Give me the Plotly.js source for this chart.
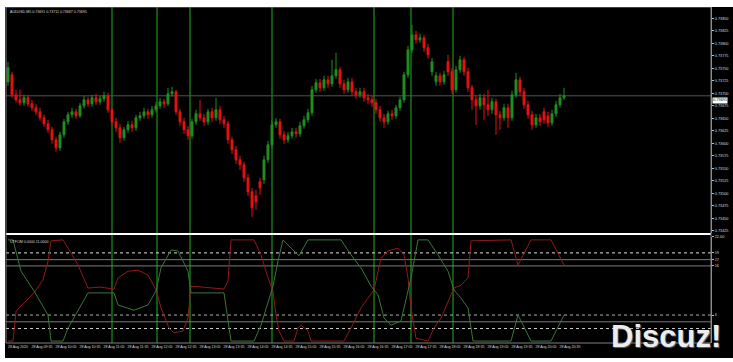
<!DOCTYPE html>
<html>
<head>
<meta charset="utf-8">
<script src="https://cdn.plot.ly/plotly-3.0.1.min.js"></script>
<style>
html,body{margin:0;padding:0;background:#fff;width:733px;height:362px;overflow:hidden;}
#chart{position:absolute;left:5px;top:7px;width:728px;height:351px;}
</style>
</head>
<body>
<div id="chart"></div>
<script>
// ---- data ----
const symbolName = "AUDUSD,M5";
const opens = [0.73723,0.73737,0.73697,0.73687,0.73681,0.73691,0.73679,0.73671,0.73663,0.73651,
0.73639,0.73627,0.73607,0.73591,0.73617,0.73643,0.73657,0.73663,0.73655,0.73675,
0.73687,0.73679,0.73691,0.73683,0.73689,0.73695,0.73667,0.73643,0.73631,0.73611,
0.73627,0.73637,0.73631,0.73651,0.73655,0.73663,0.73657,0.73667,0.73675,0.73683,
0.73679,0.73699,0.73703,0.73663,0.73643,0.73627,0.73615,0.73643,0.73659,0.73651,
0.73643,0.73663,0.73651,0.73667,0.73647,0.73639,0.73607,0.73587,0.73567,0.73557,
0.73531,0.73503,0.73495,0.73523,0.73527,0.73567,0.73597,0.73637,0.73643,0.73617,
0.73607,0.73615,0.73623,0.73619,0.73635,0.73647,0.73661,0.73707,0.73721,0.73711,
0.73727,0.73719,0.73735,0.73747,0.73719,0.73707,0.73723,0.73703,0.73697,0.73703,
0.73691,0.73687,0.73681,0.73667,0.73651,0.73643,0.73659,0.73655,0.73671,0.73687,
0.73737,0.73787,0.73817,0.73807,0.73811,0.73791,0.73743,0.73723,0.73735,0.73723,
0.73763,0.73743,0.73707,0.73747,0.73767,0.73743,0.73711,0.73687,0.73675,0.73691,
0.73677,0.73667,0.73683,0.73657,0.73651,0.73671,0.73651,0.73697,0.73727,0.73703,
0.73677,0.73657,0.73637,0.73651,0.73663,0.73655,0.73641,0.73659,0.73677,0.73691];
const highs = [0.73763,0.73743,0.73707,0.73707,0.73697,0.73697,0.73687,0.73679,0.73671,0.73657,
0.73647,0.73633,0.73613,0.73623,0.73649,0.73663,0.73671,0.73669,0.73681,0.73695,
0.73693,0.73697,0.73699,0.73695,0.73703,0.73701,0.73673,0.73651,0.73639,0.73633,
0.73645,0.73645,0.73657,0.73663,0.73671,0.73669,0.73675,0.73683,0.73691,0.73689,
0.73711,0.73713,0.73707,0.73669,0.73651,0.73635,0.73649,0.73667,0.73687,0.73659,
0.73669,0.73671,0.73691,0.73675,0.73655,0.73645,0.73613,0.73595,0.73575,0.73563,
0.73539,0.73511,0.73507,0.73531,0.73575,0.73605,0.73645,0.73651,0.73649,0.73625,
0.73623,0.73631,0.73631,0.73643,0.73655,0.73669,0.73715,0.73729,0.73729,0.73735,
0.73735,0.73767,0.73781,0.73753,0.73727,0.73731,0.73731,0.73711,0.73711,0.73711,
0.73699,0.73695,0.73689,0.73675,0.73659,0.73665,0.73667,0.73677,0.73693,0.73743,
0.73795,0.73837,0.73825,0.73819,0.73817,0.73799,0.73771,0.73743,0.73741,0.73745,
0.73777,0.73751,0.73755,0.73775,0.73773,0.73751,0.73717,0.73695,0.73699,0.73699,
0.73707,0.73691,0.73689,0.73665,0.73679,0.73679,0.73705,0.73741,0.73733,0.73711,
0.73685,0.73665,0.73659,0.73659,0.73671,0.73663,0.73667,0.73685,0.73699,0.73711];
const lows = [0.73715,0.73691,0.73681,0.73675,0.73675,0.73673,0.73665,0.73657,0.73645,0.73633,
0.73621,0.73599,0.73583,0.73585,0.73611,0.73637,0.73651,0.73649,0.73651,0.73669,
0.73673,0.73673,0.73677,0.73677,0.73683,0.73661,0.73637,0.73623,0.73601,0.73605,
0.73621,0.73623,0.73625,0.73645,0.73649,0.73649,0.73651,0.73661,0.73669,0.73671,
0.73675,0.73693,0.73657,0.73635,0.73619,0.73607,0.73609,0.73637,0.73645,0.73635,
0.73637,0.73643,0.73645,0.73639,0.73631,0.73599,0.73579,0.73559,0.73547,0.73523,
0.73495,0.73453,0.73467,0.73497,0.73519,0.73561,0.73591,0.73631,0.73609,0.73599,
0.73601,0.73609,0.73611,0.73613,0.73629,0.73641,0.73655,0.73701,0.73703,0.73705,
0.73711,0.73713,0.73729,0.73711,0.73699,0.73701,0.73695,0.73689,0.73691,0.73683,
0.73679,0.73673,0.73659,0.73643,0.73631,0.73637,0.73647,0.73649,0.73665,0.73681,
0.73731,0.73781,0.73799,0.73801,0.73783,0.73769,0.73735,0.73715,0.73715,0.73717,
0.73735,0.73699,0.73701,0.73741,0.73735,0.73703,0.73667,0.73637,0.73667,0.73647,
0.73655,0.73659,0.73617,0.73627,0.73645,0.73631,0.73645,0.73691,0.73695,0.73669,
0.73649,0.73627,0.73631,0.73635,0.73639,0.73633,0.73635,0.73653,0.73671,0.73687];
const closes = [0.73751,0.73697,0.73687,0.73681,0.73691,0.73679,0.73671,0.73663,0.73651,0.73639,
0.73627,0.73607,0.73591,0.73617,0.73643,0.73657,0.73663,0.73655,0.73675,0.73687,
0.73679,0.73691,0.73683,0.73689,0.73695,0.73667,0.73643,0.73631,0.73611,0.73627,
0.73637,0.73631,0.73651,0.73655,0.73663,0.73657,0.73667,0.73675,0.73683,0.73679,
0.73699,0.73703,0.73663,0.73643,0.73627,0.73615,0.73643,0.73659,0.73651,0.73643,
0.73663,0.73651,0.73667,0.73647,0.73639,0.73607,0.73587,0.73567,0.73557,0.73531,
0.73503,0.73471,0.73483,0.73511,0.73567,0.73597,0.73637,0.73643,0.73617,0.73607,
0.73615,0.73623,0.73619,0.73635,0.73647,0.73661,0.73707,0.73721,0.73711,0.73727,
0.73719,0.73735,0.73747,0.73719,0.73707,0.73723,0.73703,0.73697,0.73703,0.73691,
0.73687,0.73681,0.73667,0.73651,0.73643,0.73659,0.73655,0.73671,0.73687,0.73737,
0.73787,0.73817,0.73807,0.73811,0.73791,0.73777,0.73763,0.73735,0.73723,0.73737,
0.73743,0.73707,0.73747,0.73767,0.73743,0.73711,0.73687,0.73675,0.73691,0.73677,
0.73667,0.73683,0.73657,0.73651,0.73671,0.73651,0.73697,0.73727,0.73703,0.73677,
0.73657,0.73637,0.73651,0.73643,0.73647,0.73641,0.73659,0.73677,0.73691,0.73695];

// vertical signal lines (bar positions)
const signalBars = [26, 37.25, 45.5, 66, 91.5, 100.75, 111.25];

// oscillator (lower window)
const oscName = "UTFOM 0.0000 11.0000";
const redX = [0,1.25,2,3.25,6.5,8.75,10,10.75,13.75,15,17.5,20,23,26.5,27.5,30,32.5,35,37,38.25,40.25,41.5,43.75,45,45.75,50,54,55,55.75,61.5,63.25,65,66.25,67,67.75,69,71.5,72.5,73.25,75,75.75,84,85.75,88.25,90,91.5,93.25,95,97.5,99,100,100.75,102,105,106.5,108.25,110.75,111.5,113.25,115,115.75,125.75,127.5,130.75,135.75,139];
const redY = [0.4,0.4,6.6,7.7,10.4,13.1,17.0,21.2,21.4,19.7,16.2,11.4,11.6,11.2,13.5,14.9,15.1,14.1,11.0,7.3,3.1,2.1,2.5,5.2,11.8,11.5,11.2,12.9,21.4,21.4,18.3,13.5,10.8,5.8,2.5,0.4,0.4,3.1,3.7,2.5,0.4,0.4,3.1,7.3,9.3,11.0,17.6,19.1,19.7,18.3,13.5,7.3,1.0,0.4,3.1,5.2,10.0,11.4,12.0,13.5,21.2,21.4,16.2,21.4,21.4,16.2];
const greenX = [0,1.25,3.25,6.5,10,10.75,13.75,15,20,26.5,27.5,31.5,35,37,38.25,40.75,42.5,45,45.75,54,55.75,61.5,63.25,65,66.25,67.5,68.75,70.75,72.75,75,83.25,85.75,88.25,90.75,92.5,94,95.75,98.25,100.75,102.5,105,107.5,110,111.5,113.25,115,116.25,125.75,127.5,130.75,135.75,139];
const greenY = [21.4,21.4,14.9,10.8,5.8,0.4,0.4,3.1,10.4,10.4,7.9,6.8,7.9,10.8,15.6,19.3,19.1,14.9,10.4,10.4,0.4,0.4,3.7,8.7,11.8,17.0,21.4,19.7,18.1,21.4,21.4,18.3,15.6,11.8,10.0,5.2,3.7,4.6,13.5,21.4,21.4,18.3,14.9,11.0,9.3,7.3,0.4,0.4,5.8,0.4,0.4,5.8];
const oscMax = 22;
const oscLevels = [18.7, 17.3, 16.0, 5.8, 4.4, 3.0];
const oscLevelDash = ['dot','solid','solid','dot','solid','dot'];
const oscLevelColor = ['#e0e0e0','#7a7a7a','#7a7a7a','#b0b0b0','#7a7a7a','#d0d0d0'];

// axis ticks
const priceTicks = [0.73850,0.73825,0.73800,0.73775,0.73750,0.73725,0.73700,0.73675,0.73650,
0.73625,0.73600,0.73575,0.73550,0.73525,0.73500,0.73475,0.73450,0.73425];
const timeTickBars = [0,6,12,18,24,30,36,42,48,54,60,66,72,78,84,90,96,102,108,114,120,126,132,138];
const timeTickLabels = ["28 Aug 2020","28 Aug 09:35","28 Aug 10:05","28 Aug 10:35","28 Aug 11:05","28 Aug 11:35",
"28 Aug 12:05","28 Aug 12:35","28 Aug 13:05","28 Aug 13:35","28 Aug 14:05","28 Aug 14:35",
"28 Aug 15:05","28 Aug 15:35","28 Aug 16:05","28 Aug 16:35","28 Aug 17:05","28 Aug 17:35",
"28 Aug 18:05","28 Aug 18:35","28 Aug 19:05","28 Aug 19:35","28 Aug 20:05","28 Aug 20:35"];

// ---- drawing ----
const bars = closes.map((_, i) => i);
const n = closes.length - 1;
const lastClose = closes[n];
const FONT = 'Liberation Sans, Arial, sans-serif';

const traces = [
  {type:'candlestick', x:bars, open:opens, high:highs, low:lows, close:closes,
   xaxis:'x', yaxis:'y', whiskerwidth:0, hoverinfo:'skip',
   increasing:{line:{color:'#1f8f1f', width:1}, fillcolor:'#1f8f1f'},
   decreasing:{line:{color:'#e31212', width:1}, fillcolor:'#e31212'}},
  {type:'scatter', mode:'lines', x:redX, y:redY, xaxis:'x', yaxis:'y2',
   line:{color:'#921a1a', width:1}, hoverinfo:'skip'},
  {type:'scatter', mode:'lines', x:greenX, y:greenY, xaxis:'x', yaxis:'y2',
   line:{color:'#3a763a', width:1}, hoverinfo:'skip'}
];

const shapes = [];
signalBars.forEach(b => shapes.push({type:'line', xref:'x', yref:'paper', x0:b, x1:b, y0:0, y1:1,
  line:{color:'#1c931c', width:1.2}, layer:'below'}));
shapes.push({type:'line', xref:'paper', yref:'y', x0:0, x1:1, y0:lastClose, y1:lastClose,
  line:{color:'#555555', width:1}, layer:'below'});
oscLevels.forEach((lv, k) => shapes.push({type:'line', xref:'paper', yref:'y2', x0:0, x1:1, y0:lv, y1:lv,
  line:{color:oscLevelColor[k], width:1, dash:oscLevelDash[k]}, layer:'below'}));
shapes.push({type:'line', xref:'paper', yref:'paper', x0:0, x1:1, y0:0.3244, y1:0.3244,
  line:{color:'#ffffff', width:2}});
shapes.push({type:'rect', xref:'paper', yref:'paper', x0:0, x1:1, y0:0, y1:1,
  line:{color:'#808080', width:1}});

const tf = {family:FONT, size:3.8, color:'#d8d8d8'};
const annotations = [
  {xref:'paper', yref:'paper', x:0.003, y:1, xanchor:'left', yanchor:'top', yshift:-1, showarrow:false,
   text: symbolName + ' ' + opens[n].toFixed(5) + ' ' + highs[n].toFixed(5) + ' ' + lows[n].toFixed(5) + ' ' + closes[n].toFixed(5),
   font:{family:FONT, size:3.6, color:'#d8d8d8'}},
  {xref:'paper', yref:'paper', x:0.003, y:0.3155, xanchor:'left', yanchor:'top', yshift:-1, showarrow:false,
   text: oscName, font:{family:FONT, size:3.6, color:'#d8d8d8'}},
  {xref:'paper', yref:'y', x:1, y:lastClose, xanchor:'left', yanchor:'top', xshift:1, yshift:-0.8, showarrow:false,
   text: lastClose.toFixed(5), bgcolor:'#ffffff', borderpad:0.3,
   font:{family:FONT, size:3.8, color:'#000'}},
  {xref:'paper', yref:'paper', x:0.936, y:0.018, xanchor:'center', yanchor:'middle', showarrow:false,
   text:'<b>Discuz!</b>', font:{family:FONT, size:31, color:'#ececec', shadow:'1px 1px 1px #666'}}
];

const layout = {
  width:728, height:351,
  margin:{l:1, r:22, t:0, b:15, pad:0},
  paper_bgcolor:'#000', plot_bgcolor:'#000',
  showlegend:false,
  xaxis:{domain:[0,1], range:[-0.5,175.75], anchor:'y2', rangeslider:{visible:false},
    tickmode:'array', tickvals:timeTickBars.map(b => b + 2.5), ticktext:timeTickLabels,
    tickfont:{family:FONT, size:3.6, color:'#d8d8d8'}, ticks:'', showgrid:false, zeroline:false, showline:false},
  yaxis:{domain:[0.3274,1], range:[0.734206,0.738726], side:'right', anchor:'x',
    tickmode:'array', tickvals:priceTicks, ticktext:priceTicks.map(v => v.toFixed(5)),
    tickfont:tf, ticks:'outside', ticklen:2, tickcolor:'#bbbbbb', showline:true, linecolor:'#9a9a9a',
    showgrid:false, zeroline:false},
  yaxis2:{domain:[0,0.3155], range:[0,oscMax], side:'right', anchor:'x',
    tickmode:'array', tickvals:[oscMax].concat(oscLevels.slice(0,4)),
    ticktext:[oscMax.toFixed(2)].concat(oscLevels.slice(0,4).map(v => String(Math.round(v)))),
    tickfont:tf, ticks:'outside', ticklen:2, tickcolor:'#bbbbbb', showline:true, linecolor:'#9a9a9a',
    showgrid:false, zeroline:false},
  shapes:shapes,
  annotations:annotations
};

Plotly.newPlot('chart', traces, layout, {staticPlot:true, displayModeBar:false});
</script>
</body>
</html>
